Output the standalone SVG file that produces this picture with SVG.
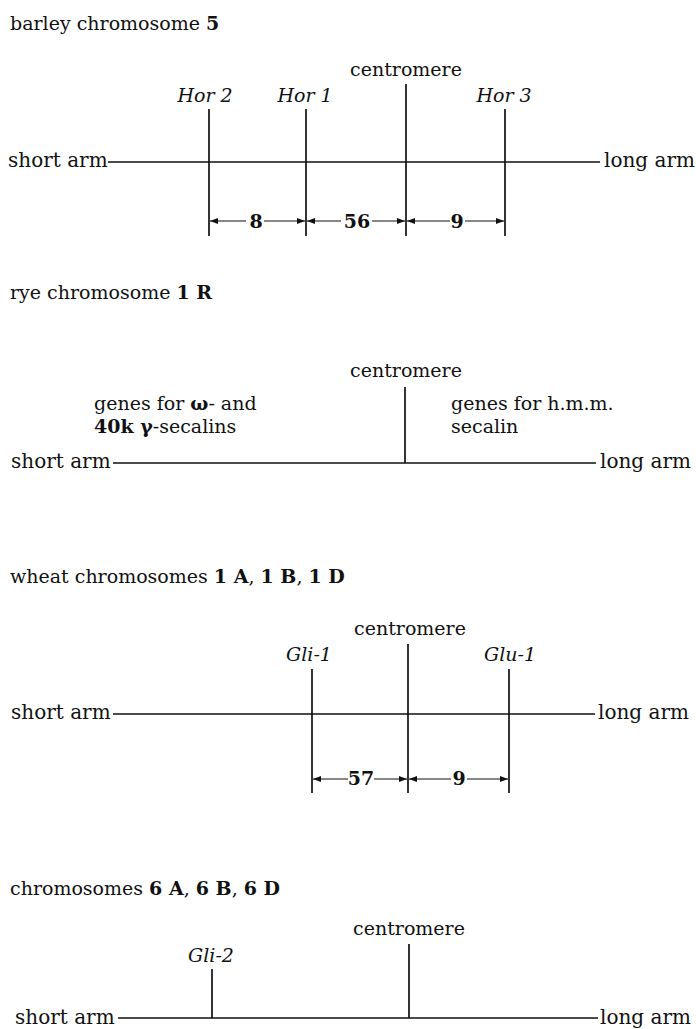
<svg xmlns="http://www.w3.org/2000/svg" width="696" height="1029" viewBox="0 0 696 1029">
<defs>
<style>
text{font-family:"DejaVu Serif","Liberation Serif",serif;font-size:19px;fill:#111}
.arm{font-size:20px}
.it{font-style:italic}
.b{font-weight:bold}
.c{text-anchor:middle}
.ln{stroke:#111;stroke-width:1.7;fill:none}
.ar{stroke:#111;stroke-width:1.2;fill:none}
</style>
<marker id="ah" viewBox="0 0 8 6" refX="8" refY="3" markerWidth="8" markerHeight="6" markerUnits="userSpaceOnUse" orient="auto">
<path d="M0,0 L8,3 L0,6 Z" fill="#111"/>
</marker>
</defs>
<rect width="696" height="1029" fill="#fff"/>

<g id="barley">
<text x="10" y="30">barley chromosome <tspan class="b">5</tspan></text>
<text x="406" y="76" class="c">centromere</text>
<text x="205" y="102" class="c it">Hor 2</text>
<text x="305" y="102" class="c it">Hor 1</text>
<text x="504" y="102" class="c it">Hor 3</text>
<text x="8" y="167" class="arm">short arm</text>
<text x="604" y="167" class="arm">long arm</text>
<text x="256" y="228" class="c b">8</text>
<text x="357" y="228" class="c b">56</text>
<text x="457" y="228" class="c b">9</text>
</g>
<g id="rye">
<text x="10" y="299">rye chromosome <tspan class="b">1 R</tspan></text>
<text x="406" y="377" class="c">centromere</text>
<text x="94" y="410">genes for <tspan class="b">ω</tspan>- and</text>
<text x="94" y="433"><tspan class="b">40k  γ</tspan>-secalins</text>
<text x="451" y="410">genes for h.m.m.</text>
<text x="451" y="433">secalin</text>
<text x="11" y="468" class="arm">short arm</text>
<text x="600" y="468" class="arm">long arm</text>
</g>
<g id="wheat1">
<text x="10" y="583">wheat chromosomes <tspan class="b">1 A</tspan>, <tspan class="b">1 B</tspan>, <tspan class="b">1 D</tspan></text>
<text x="410" y="635" class="c">centromere</text>
<text x="309" y="661" class="c it">Gli-1</text>
<text x="510" y="661" class="c it">Glu-1</text>
<text x="11" y="719" class="arm">short arm</text>
<text x="598" y="719" class="arm">long arm</text>
<text x="361" y="785" class="c b">57</text>
<text x="459" y="785" class="c b">9</text>
</g>
<g id="wheat6">
<text x="10" y="895">chromosomes <tspan class="b">6 A</tspan>, <tspan class="b">6 B</tspan>, <tspan class="b">6 D</tspan></text>
<text x="409" y="935" class="c">centromere</text>
<text x="211" y="962" class="c it">Gli-2</text>
<text x="15" y="1024" class="arm">short arm</text>
<text x="600" y="1024" class="arm">long arm</text>
</g>

<g id="connectors">
<!-- barley -->
<line class="ln" x1="108" y1="162" x2="600" y2="162"/>
<line class="ln" x1="406" y1="84" x2="406" y2="236"/>
<line class="ln" x1="209" y1="109" x2="209" y2="236"/>
<line class="ln" x1="306" y1="109" x2="306" y2="236"/>
<line class="ln" x1="505" y1="109" x2="505" y2="236"/>
<line class="ar" x1="246" y1="221" x2="210" y2="221" marker-end="url(#ah)"/>
<line class="ar" x1="264" y1="221" x2="305" y2="221" marker-end="url(#ah)"/>
<line class="ar" x1="341" y1="221" x2="307" y2="221" marker-end="url(#ah)"/>
<line class="ar" x1="372" y1="221" x2="405" y2="221" marker-end="url(#ah)"/>
<line class="ar" x1="450" y1="221" x2="407" y2="221" marker-end="url(#ah)"/>
<line class="ar" x1="465" y1="221" x2="504" y2="221" marker-end="url(#ah)"/>
<!-- rye -->
<line class="ln" x1="113" y1="463" x2="596" y2="463"/>
<line class="ln" x1="405" y1="387" x2="405" y2="463"/>
<!-- wheat 1 -->
<line class="ln" x1="113" y1="714" x2="595" y2="714"/>
<line class="ln" x1="408" y1="644" x2="408" y2="793"/>
<line class="ln" x1="312" y1="669" x2="312" y2="793"/>
<line class="ln" x1="509" y1="669" x2="509" y2="793"/>
<line class="ar" x1="348" y1="779" x2="313" y2="779" marker-end="url(#ah)"/>
<line class="ar" x1="374" y1="779" x2="407" y2="779" marker-end="url(#ah)"/>
<line class="ar" x1="451" y1="779" x2="409" y2="779" marker-end="url(#ah)"/>
<line class="ar" x1="467" y1="779" x2="508" y2="779" marker-end="url(#ah)"/>
<!-- wheat 6 -->
<line class="ln" x1="118" y1="1018" x2="598" y2="1018"/>
<line class="ln" x1="409" y1="944" x2="409" y2="1018"/>
<line class="ln" x1="212" y1="969" x2="212" y2="1018"/>
</g>
</svg>
